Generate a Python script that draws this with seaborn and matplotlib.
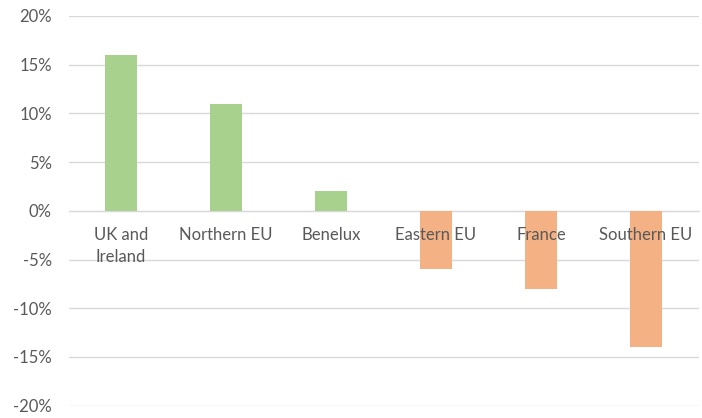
import numpy as np
import pandas as pd
import seaborn as sns
import matplotlib.pyplot as plt
from matplotlib.ticker import PercentFormatter

# ---- data ----
regions = ["UK and\nIreland", "Northern EU", "Benelux", "Eastern EU", "France", "Southern EU"]
change = [16, 11, 2, -6, -8, -14]
yticks = [-20, -15, -10, -5, 0, 5, 10, 15, 20]
# --------------

df = pd.DataFrame({"region": regions, "change": change})
df["sign"] = np.where(df["change"] >= 0, "pos", "neg")

sns.set_style("white")
plt.rcParams["font.family"] = ["Lato", "DejaVu Sans"]
plt.rcParams["axes.unicode_minus"] = False

fig = plt.figure(figsize=(7.02, 4.18), dpi=100)
ax = fig.add_axes([68.5 / 702, 12.4 / 418, 630 / 702, 389.6 / 418])

sns.barplot(data=df, x="region", y="change", hue="sign",
            palette={"pos": "#A9D18E", "neg": "#F4B183"},
            dodge=False, width=0.314, legend=False, saturation=1,
            linewidth=0, ax=ax)

ax.set_ylim(-20, 20)
ax.set_xlim(-0.5, 5.5)
ax.set_yticks(yticks)
ax.yaxis.set_major_formatter(PercentFormatter(decimals=0))
ax.grid(axis="y", color="#D9D9D9", linewidth=1)
ax.set_axisbelow(True)
ax.xaxis.set_zorder(3)  # category labels drawn over the bars

for s in ["left", "right", "top"]:
    ax.spines[s].set_visible(False)
ax.spines["bottom"].set_position(("data", 0))
ax.spines["bottom"].set_color("#D9D9D9")
ax.spines["bottom"].set_zorder(0.5)

ax.tick_params(axis="y", length=0, pad=12, labelsize=12, labelcolor="#595959")
ax.tick_params(axis="x", length=0, pad=12, labelsize=12, labelcolor="#595959")
for lbl in ax.get_xticklabels():
    lbl.set_linespacing(1.45)
ax.set_xlabel("")
ax.set_ylabel("")

fig.savefig("out.png", dpi=100)
